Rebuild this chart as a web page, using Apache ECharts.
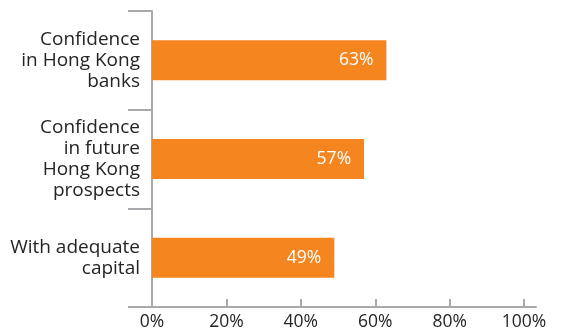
<!DOCTYPE html>
<html>
<head>
<meta charset="utf-8">
<style>
  html, body { margin: 0; padding: 0; background: #ffffff; }
  #chart { width: 563px; height: 336px; }
</style>
<script src="https://cdn.jsdelivr.net/npm/echarts@6/dist/echarts.min.js"></script>
</head>
<body>
<div id="chart"></div>
<script>
// Survey measures, listed top to bottom
const categories = [
  'Confidence\nin Hong Kong\nbanks',
  'Confidence\nin future\nHong Kong\nprospects',
  'With adequate\ncapital'
];
// Share of respondents (%)
const values = [63, 57, 49];
// Value axis ticks
const xTicks = [0, 20, 40, 60, 80, 100];

const FONT = '"Open Sans", "Noto Sans", sans-serif';
const AXIS_GRAY = '#a7a9ac';
const TEXT = '#262425';
const BAR = '#f5851f';

const chart = echarts.init(document.getElementById('chart'), null, { renderer: 'canvas' });

chart.setOption({
  animation: false,
  backgroundColor: '#ffffff',
  grid: { left: 152, right: 27, top: 11, bottom: 29, containLabel: false },
  xAxis: {
    type: 'value',
    min: 0,
    // baseline runs a little past the last tick
    max: 103.2,
    position: 'bottom',
    axisLine: { show: true, lineStyle: { color: AXIS_GRAY, width: 2 } },
    axisTick: {
      show: true, inside: true, length: 8,
      customValues: xTicks,
      lineStyle: { color: AXIS_GRAY, width: 2 }
    },
    axisLabel: {
      customValues: xTicks,
      formatter: v => v + '%',
      color: TEXT, fontFamily: FONT, fontSize: 17.5, margin: 6
    },
    splitLine: { show: false }
  },
  yAxis: {
    type: 'category',
    data: categories,
    inverse: true,
    axisLine: { show: true, lineStyle: { color: AXIS_GRAY, width: 2 } },
    axisTick: { show: true, length: 24, lineStyle: { color: AXIS_GRAY, width: 2 } },
    axisLabel: {
      color: TEXT, fontFamily: FONT, fontSize: 19, lineHeight: 21,
      align: 'right', margin: 12
    },
    splitLine: { show: false }
  },
  series: [{
    type: 'bar',
    data: values,
    barWidth: 40,
    itemStyle: { color: BAR },
    label: {
      show: true,
      position: 'insideRight',
      distance: 13,
      formatter: p => p.value + '%',
      color: '#ffffff',
      fontFamily: FONT,
      fontSize: 17.5
    }
  }]
});
</script>
</body>
</html>
